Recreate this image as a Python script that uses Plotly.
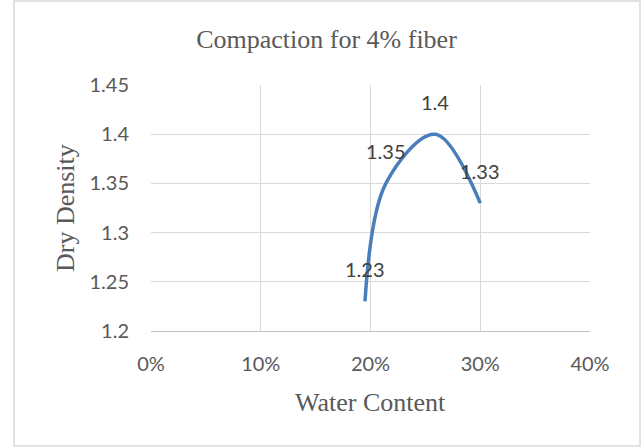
import plotly.graph_objects as go

water_content = [0.195, 0.214, 0.259, 0.30]
dry_density = [1.23, 1.35, 1.40, 1.33]
x_ticks = [0, 0.1, 0.2, 0.3, 0.4]
y_ticks = [1.2, 1.25, 1.3, 1.35, 1.4, 1.45]

W, H = 642, 448
L, R, T, B = 151, 52, 85, 117
pw, ph = W - L - R, H - T - B

def px_x(p):
    return (p - L) / pw

def px_y(p):
    return (H - B - p) / ph

tick_font = dict(family="Lato, Open Sans, sans-serif", size=20, color="#595959")
serif = dict(family="Liberation Serif, Times New Roman, serif", size=26, color="#595959")

fig = go.Figure()
fig.add_trace(go.Scatter(
    x=water_content, y=dry_density, mode="lines",
    line=dict(color="#4a7ebb", width=3.5, shape="spline", smoothing=1),
    hoverinfo="skip", showlegend=False,
))

for xv, yv in zip(water_content, dry_density):
    fig.add_annotation(x=xv, y=yv, text=f"{yv:g}", showarrow=False, yshift=32,
                       font=dict(family=tick_font["family"], size=20, color="#404040"))

fig.add_annotation(xref="paper", yref="paper", x=0.5, y=px_y(402), text="Water Content",
                   showarrow=False, font=serif, yanchor="middle", xanchor="center")
fig.add_annotation(xref="paper", yref="paper", x=px_x(65), y=px_y(208), text="Dry Density",
                   showarrow=False, font=serif, textangle=-90, yanchor="middle", xanchor="center")

fig.add_shape(type="rect", xref="paper", yref="paper",
              x0=px_x(14), x1=px_x(640), y0=px_y(446), y1=px_y(1),
              line=dict(color="#d9d9d9", width=1.5), layer="below")

fig.update_layout(
    width=W, height=H,
    margin=dict(l=L, r=R, t=T, b=B),
    paper_bgcolor="white", plot_bgcolor="white",
    title=dict(text="Compaction for 4% fiber", font=serif,
               x=326.5 / W, xanchor="center", y=1 - 39 / H, yanchor="middle"),
    xaxis=dict(range=[0, 0.4], tickvals=x_ticks, tickformat=".0%",
               showgrid=True, gridcolor="#d9d9d9", gridwidth=1.3,
               showline=True, linecolor="#bfbfbf", linewidth=1.3,
               zeroline=False, ticks="", tickfont=tick_font, ticklabelstandoff=15),
    yaxis=dict(range=[1.2, 1.45], tickvals=y_ticks,
               showgrid=True, gridcolor="#d9d9d9", gridwidth=1.3,
               showline=False, zeroline=False, ticks="", tickfont=tick_font,
               ticklabelstandoff=21),
)

fig.write_html("out.html")
